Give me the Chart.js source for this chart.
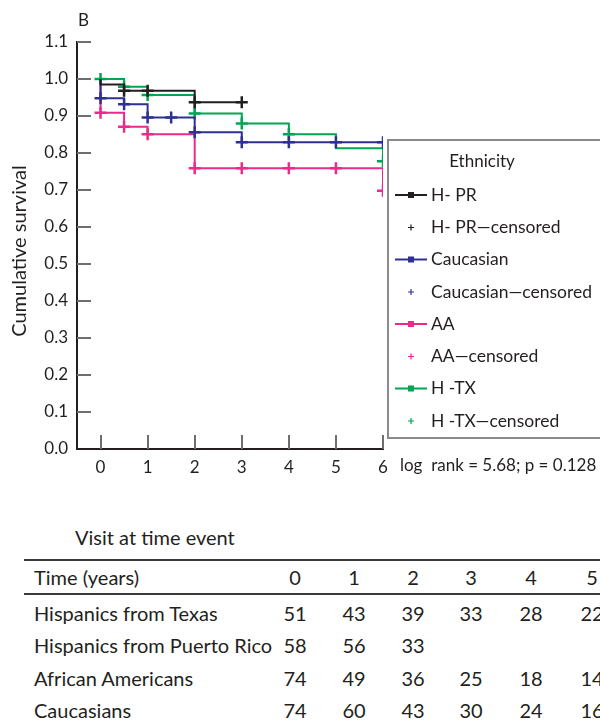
<!DOCTYPE html>
<html>
<head>
<meta charset="utf-8">
<script src="https://cdn.jsdelivr.net/npm/chart.js@4.4.1/dist/chart.umd.min.js"></script>
<style>
  html, body { margin: 0; padding: 0; background: #fff; }
  #wrap { position: relative; width: 600px; height: 725px; overflow: hidden; font-family: Lato, "Open Sans", sans-serif; color: #231f20; }
  #chart { position: absolute; left: 0; top: 0; }
  .t { position: absolute; font-size: 20px; line-height: 24px; white-space: nowrap; }
  .rule { position: absolute; left: 24px; width: 576px; height: 2px; background: #3a3a3a; }
</style>
</head>
<body>
<div id="wrap">
  <canvas id="chart" width="600" height="480"></canvas>
  <div id="table"></div>
</div>
<script>
// survival curves (time in years, cumulative survival after each step)
const prTime = [0, 0, 0.5, 2, 3];
const prSurv = [1.0, 0.985, 0.968, 0.937, 0.937];
const prCensTime = [0.5, 1, 2, 3];
const prCensSurv = [0.968, 0.968, 0.937, 0.937];

const caucTime = [0, 0, 0.5, 1, 2, 3, 6];
const caucSurv = [1.0, 0.948, 0.932, 0.896, 0.856, 0.829, 0.829];
const caucCensTime = [0, 0.5, 1, 1.5, 2, 3, 4, 5, 6];
const caucCensSurv = [0.948, 0.932, 0.896, 0.896, 0.856, 0.829, 0.829, 0.829, 0.829];

const aaTime = [0, 0, 0.5, 1, 2, 6];
const aaSurv = [1.0, 0.909, 0.871, 0.851, 0.759, 0.698];
const aaCensTime = [0, 0.5, 1, 2, 3, 4, 5, 6];
const aaCensSurv = [0.909, 0.871, 0.851, 0.759, 0.759, 0.759, 0.759, 0.698];

const txTime = [0, 0.5, 1, 2, 3, 4, 5, 6];
const txSurv = [1.0, 0.979, 0.957, 0.907, 0.880, 0.851, 0.813, 0.778];
const txCensTime = [0, 0.5, 1, 2, 3, 4, 6];
const txCensSurv = [1.0, 0.979, 0.957, 0.907, 0.880, 0.851, 0.778];

const xTicks = [0, 1, 2, 3, 4, 5, 6];
const yTicks = [0, 0.1, 0.2, 0.3, 0.4, 0.5, 0.6, 0.7, 0.8, 0.9, 1.0, 1.1];

const legendNames = ["H- PR", "Caucasian", "AA", "H -TX"];
const yTitle = "Cumulative survival";
const logRankText = "log  rank = 5.68; p = 0.128";

// number at risk table
const tableTitle = "Visit at time event";
const tableHeader = ["0", "1", "2", "3", "4", "5"];
const tableRows = ["Hispanics from Texas", "Hispanics from Puerto Rico", "African Americans", "Caucasians"];
const txRisk = [51, 43, 39, 33, 28, 22];
const prRisk = [58, 56, 33];
const aaRisk = [74, 49, 36, 25, 18, 14];
const caucRisk = [74, 60, 43, 30, 24, 16];

const FONT = "Lato, 'Open Sans', sans-serif";
const INK = "#231f20";
const colors = ["#231f20", "#2e3192", "#ec2a8c", "#00a651"];

const pts = (xs, ys) => xs.map((x, i) => ({ x: x, y: ys[i] }));

function curve(label, xs, ys, color) {
    return {
        label: label, type: "line", data: pts(xs, ys), stepped: true,
        borderColor: color, borderWidth: 2, pointRadius: 0, fill: false
    };
}
function censored(label, xs, ys, color) {
    return {
        label: label + "\u2014censored", type: "scatter", data: pts(xs, ys),
        pointStyle: "cross", pointRadius: 6, borderColor: color, borderWidth: 2.5,
        backgroundColor: color
    };
}

const datasets = [
    curve(legendNames[0], prTime, prSurv, colors[0]),
    censored(legendNames[0], prCensTime, prCensSurv, colors[0]),
    curve(legendNames[1], caucTime, caucSurv, colors[1]),
    censored(legendNames[1], caucCensTime, caucCensSurv, colors[1]),
    curve(legendNames[3], txTime, txSurv, colors[3]),
    censored(legendNames[3], txCensTime, txCensSurv, colors[3]),
    curve(legendNames[2], aaTime, aaSurv, colors[2]),
    censored(legendNames[2], aaCensTime, aaCensSurv, colors[2]),
];

// inward tick marks, panel label, axis title, legend box and log rank note
const extras = {
    id: "extras",
    afterDraw(chart) {
        const ctx = chart.ctx;
        const area = chart.chartArea;
        const xs = chart.scales.x, ys = chart.scales.y;
        ctx.save();
        ctx.strokeStyle = "#6d6e71";
        ctx.lineWidth = 2;
        yTicks.forEach(v => {
            const py = Math.round(ys.getPixelForValue(v));
            if (v === 0) return;
            ctx.beginPath(); ctx.moveTo(area.left, py); ctx.lineTo(area.left + 14, py); ctx.stroke();
        });
        xTicks.forEach(v => {
            const px = Math.round(xs.getPixelForValue(v));
            ctx.beginPath(); ctx.moveTo(px, area.bottom); ctx.lineTo(px, area.bottom - 14); ctx.stroke();
        });

        ctx.fillStyle = INK;
        ctx.font = "17px " + FONT;
        ctx.textBaseline = "middle";
        ctx.textAlign = "left";
        ctx.fillText("B", 78, 21);

        ctx.save();
        ctx.translate(20, 251);
        ctx.rotate(-Math.PI / 2);
        ctx.textAlign = "center";
        ctx.font = "20px " + FONT;
        ctx.fillText(yTitle, 0, 0);
        ctx.restore();

        ctx.font = "17px " + FONT;
        ctx.fillText(logRankText, 400, 466);

        // legend
        const bx = 388, by = 140, bw = 220, bh = 298;
        ctx.fillStyle = "#fff";
        ctx.fillRect(bx, by, bw, bh);
        ctx.strokeStyle = "#8a8a8a";
        ctx.lineWidth = 2;
        ctx.strokeRect(bx, by, bw, bh);

        ctx.fillStyle = INK;
        ctx.textAlign = "center";
        ctx.font = "17px " + FONT;
        ctx.fillText("Ethnicity", 482, 162);
        ctx.textAlign = "left";
        [0, 1, 2, 3].forEach((g, i) => {
            const color = colors[g];
            const y1 = 195 + i * 64.5;
            const y2 = y1 + 32.5;
            ctx.strokeStyle = color;
            ctx.fillStyle = color;
            ctx.lineWidth = 2;
            ctx.beginPath(); ctx.moveTo(395, y1); ctx.lineTo(427, y1); ctx.stroke();
            ctx.fillRect(408, y1 - 3, 6, 6);
            ctx.lineWidth = 1.2;
            ctx.beginPath();
            ctx.moveTo(408, y2); ctx.lineTo(414, y2);
            ctx.moveTo(411, y2 - 3); ctx.lineTo(411, y2 + 3);
            ctx.stroke();
            ctx.fillStyle = INK;
            ctx.font = "17.5px " + FONT;
            ctx.fillText(legendNames[g], 431, y1);
            ctx.fillText(legendNames[g] + "\u2014censored", 431, y2);
        });
        ctx.restore();
    }
};

new Chart(document.getElementById("chart"), {
    type: "line",
    data: { datasets: datasets },
    options: {
        responsive: false,
        animation: false,
        layout: { padding: { top: 42, right: 217, left: 0, bottom: 0 } },
        plugins: { legend: { display: false }, tooltip: { enabled: false } },
        scales: {
            x: {
                type: "linear", min: -0.5, max: 6,
                afterBuildTicks: s => { s.ticks = xTicks.map(v => ({ value: v })); },
                afterFit: s => { s.height = 31; },
                grid: { display: false, drawTicks: false },
                border: { display: true, color: INK, width: 2 },
                ticks: { color: INK, padding: 8, font: { family: FONT, size: 17 }, maxRotation: 0 }
            },
            y: {
                type: "linear", min: 0, max: 1.1,
                afterBuildTicks: s => { s.ticks = yTicks.map(v => ({ value: v })); },
                afterFit: s => { s.width = 77; },
                grid: { display: false, drawTicks: false },
                border: { display: true, color: INK, width: 2 },
                ticks: { color: INK, padding: 9, font: { family: FONT, size: 17 }, callback: v => v.toFixed(1) }
            }
        }
    },
    plugins: [extras]
});

// number at risk table below the chart
const table = document.getElementById("table");
function addText(txt, x, yc, align) {
    const d = document.createElement("div");
    d.className = "t";
    d.textContent = txt;
    d.style.top = (yc - 12) + "px";
    if (align === "center") {
        d.style.left = (x - 30) + "px"; d.style.width = "60px"; d.style.textAlign = "center";
    } else {
        d.style.left = x + "px";
    }
    table.appendChild(d);
}
function addRule(y) {
    const d = document.createElement("div");
    d.className = "rule";
    d.style.top = (y - 1) + "px";
    table.appendChild(d);
}
const colX = [295, 354, 413, 471, 531, 592];
const rowY = [613, 645, 678, 710];
addText(tableTitle, 75, 537);
addRule(560);
addText("Time (years)", 34, 577);
tableHeader.forEach((h, i) => addText(h, colX[i], 577, "center"));
addRule(594);
[txRisk, prRisk, aaRisk, caucRisk].forEach((vals, r) => {
    addText(tableRows[r], 34, rowY[r]);
    vals.forEach((v, i) => addText(String(v), colX[i], rowY[r], "center"));
});
</script>
</body>
</html>
